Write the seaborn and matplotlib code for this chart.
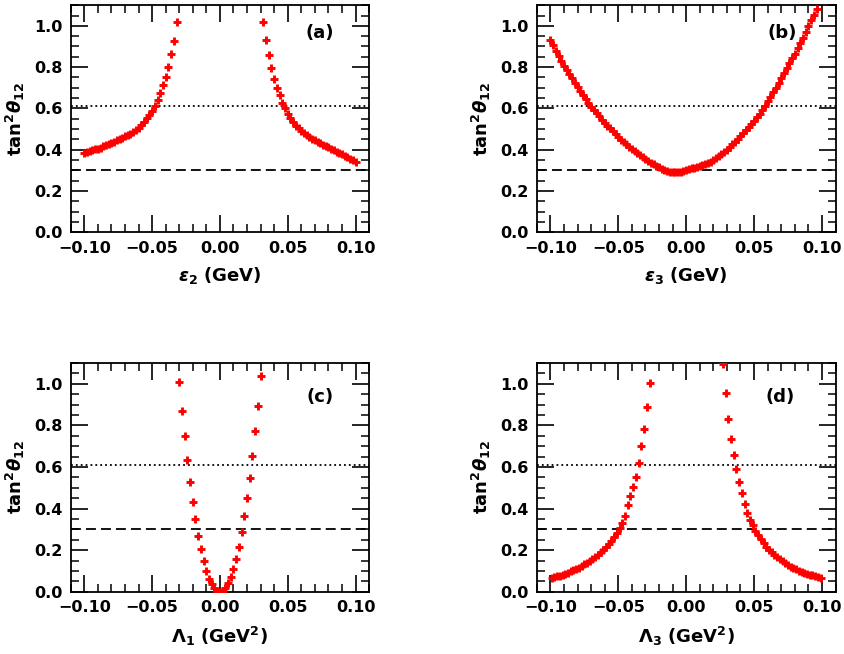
import numpy as np
import pandas as pd
import matplotlib
matplotlib.use("Agg")
import matplotlib.pyplot as plt
import seaborn as sns
from matplotlib.ticker import MultipleLocator, FuncFormatter

# ---------------- data ----------------
# (a) tan^2(theta12) vs epsilon_2 (GeV)
a_left_x = [-0.100, -0.098, -0.096, -0.094, -0.092, -0.090, -0.088, -0.086, -0.084, -0.082,
            -0.080, -0.078, -0.076, -0.074, -0.072, -0.070, -0.068, -0.066, -0.064, -0.062,
            -0.060, -0.058, -0.056, -0.054, -0.052, -0.050, -0.048, -0.046, -0.044, -0.042,
            -0.040, -0.038, -0.036, -0.034, -0.032]
a_left_y = [0.384, 0.388, 0.392, 0.396, 0.401, 0.405, 0.410, 0.416, 0.421, 0.427,
            0.433, 0.439, 0.445, 0.452, 0.458, 0.465, 0.471, 0.478, 0.486, 0.494,
            0.503, 0.518, 0.535, 0.551, 0.569, 0.589, 0.611, 0.641, 0.676, 0.712,
            0.754, 0.801, 0.863, 0.928, 1.017]
a_right_x = [0.032, 0.034, 0.036, 0.038, 0.040, 0.042, 0.044, 0.046, 0.048, 0.050,
             0.052, 0.054, 0.056, 0.058, 0.060, 0.062, 0.064, 0.066, 0.068, 0.070,
             0.072, 0.074, 0.076, 0.078, 0.080, 0.082, 0.084, 0.086, 0.088, 0.090,
             0.092, 0.094, 0.096, 0.098, 0.100]
a_right_y = [1.017, 0.930, 0.860, 0.795, 0.741, 0.699, 0.663, 0.628, 0.600, 0.574,
             0.552, 0.533, 0.517, 0.503, 0.490, 0.480, 0.470, 0.461, 0.452, 0.445,
             0.437, 0.430, 0.423, 0.417, 0.411, 0.404, 0.398, 0.391, 0.384, 0.377,
             0.369, 0.362, 0.355, 0.348, 0.341]

# (b) tan^2(theta12) vs epsilon_3 (GeV)
b_x = [-0.100, -0.098, -0.096, -0.094, -0.092, -0.090, -0.088, -0.086, -0.084, -0.082,
       -0.080, -0.078, -0.076, -0.074, -0.072, -0.070, -0.068, -0.066, -0.064, -0.062,
       -0.060, -0.058, -0.056, -0.054, -0.052, -0.050, -0.048, -0.046, -0.044, -0.042,
       -0.040, -0.038, -0.036, -0.034, -0.032, -0.030, -0.028, -0.026, -0.024, -0.022,
       -0.020, -0.018, -0.016, -0.014, -0.012, -0.010, -0.008, -0.006, -0.004, -0.002,
       0.000, 0.002, 0.004, 0.006, 0.008, 0.010, 0.012, 0.014, 0.016, 0.018,
       0.020, 0.022, 0.024, 0.026, 0.028, 0.030, 0.032, 0.034, 0.036, 0.038,
       0.040, 0.042, 0.044, 0.046, 0.048, 0.050, 0.052, 0.054, 0.056, 0.058,
       0.060, 0.062, 0.064, 0.066, 0.068, 0.070, 0.072, 0.074, 0.076, 0.078,
       0.080, 0.082, 0.084, 0.086, 0.088, 0.090, 0.092, 0.094, 0.096]
b_y = [0.930, 0.905, 0.880, 0.855, 0.830, 0.805, 0.785, 0.765, 0.745, 0.725,
       0.705, 0.685, 0.664, 0.645, 0.626, 0.608, 0.592, 0.576, 0.561, 0.546,
       0.531, 0.517, 0.503, 0.489, 0.476, 0.461, 0.449, 0.437, 0.425, 0.414,
       0.403, 0.393, 0.383, 0.373, 0.364, 0.355, 0.346, 0.337, 0.329, 0.321,
       0.314, 0.307, 0.301, 0.296, 0.292, 0.290, 0.290, 0.291, 0.294, 0.298,
       0.302, 0.306, 0.310, 0.313, 0.316, 0.320, 0.324, 0.329, 0.335, 0.342,
       0.350, 0.358, 0.367, 0.377, 0.388, 0.400, 0.412, 0.425, 0.438, 0.451,
       0.465, 0.479, 0.494, 0.509, 0.524, 0.540, 0.557, 0.575, 0.594, 0.613,
       0.634, 0.656, 0.678, 0.701, 0.725, 0.748, 0.771, 0.795, 0.818, 0.842,
       0.866, 0.891, 0.917, 0.943, 0.970, 0.998, 1.026, 1.054, 1.083]

# (c) tan^2(theta12) vs Lambda_1 (GeV^2)
c_x = [-0.030, -0.028, -0.026, -0.024, -0.022, -0.020, -0.018, -0.016, -0.014, -0.012,
       -0.010, -0.008, -0.006, -0.004, -0.002, 0.000, 0.002, 0.004, 0.006, 0.008,
       0.010, 0.012, 0.014, 0.016, 0.018, 0.020, 0.022, 0.024, 0.026, 0.028, 0.030]
c_y = [1.008, 0.871, 0.750, 0.633, 0.528, 0.432, 0.349, 0.269, 0.206, 0.148,
       0.101, 0.064, 0.037, 0.019, 0.006, 0.000, 0.006, 0.019, 0.041, 0.073,
       0.110, 0.158, 0.218, 0.286, 0.363, 0.449, 0.547, 0.653, 0.773, 0.895, 1.035]

# (d) tan^2(theta12) vs Lambda_3 (GeV^2)
d_left_x = [-0.099, -0.097, -0.095, -0.093, -0.091, -0.089, -0.087, -0.085, -0.083, -0.081,
            -0.079, -0.077, -0.075, -0.073, -0.071, -0.069, -0.067, -0.065, -0.063, -0.061,
            -0.059, -0.057, -0.055, -0.053, -0.051, -0.049, -0.047, -0.045, -0.043, -0.041,
            -0.039, -0.037, -0.035, -0.033, -0.031, -0.029, -0.027]
d_left_y = [0.066, 0.070, 0.074, 0.078, 0.083, 0.088, 0.093, 0.099, 0.105, 0.111,
            0.117, 0.124, 0.132, 0.140, 0.149, 0.158, 0.168, 0.179, 0.190, 0.202,
            0.215, 0.230, 0.246, 0.264, 0.284, 0.307, 0.333, 0.367, 0.418, 0.461,
            0.503, 0.553, 0.619, 0.702, 0.783, 0.888, 1.005]
d_right_x = [0.027, 0.029, 0.031, 0.033, 0.035, 0.037, 0.039, 0.041, 0.043, 0.045,
             0.047, 0.049, 0.051, 0.053, 0.055, 0.057, 0.059, 0.061, 0.063, 0.065,
             0.067, 0.069, 0.071, 0.073, 0.075, 0.077, 0.079, 0.081, 0.083, 0.085,
             0.087, 0.089, 0.091, 0.093, 0.095, 0.097, 0.099]
d_right_y = [1.095, 0.954, 0.830, 0.737, 0.657, 0.592, 0.530, 0.474, 0.422, 0.379,
             0.347, 0.319, 0.294, 0.272, 0.252, 0.234, 0.218, 0.203, 0.190, 0.178,
             0.167, 0.156, 0.146, 0.137, 0.129, 0.121, 0.114, 0.108, 0.102, 0.097,
             0.092, 0.087, 0.083, 0.079, 0.075, 0.072, 0.069]

dotted_level = 0.61
dashed_level = 0.30
panel_tags = ["(a)", "(b)", "(c)", "(d)"]
x_labels = [r"$\epsilon_2$ (GeV)", r"$\epsilon_3$ (GeV)",
            r"$\Lambda_1$ (GeV$^2$)", r"$\Lambda_3$ (GeV$^2$)"]
y_label = r"$\mathrm{tan}^2\theta_{12}$"

# ---------------- style ----------------
sns.set_theme(style="ticks")
plt.rcParams.update({
    "font.family": ["DejaVu Sans"],
    "font.weight": "bold",
    "axes.labelweight": "bold",
    "text.color": "black",
    "axes.labelcolor": "black",
    "xtick.color": "black",
    "ytick.color": "black",
    "mathtext.fontset": "custom",
    "mathtext.rm": "DejaVu Sans:bold",
    "mathtext.it": "DejaVu Sans:italic:bold",
    "mathtext.bf": "DejaVu Sans:bold",
    "axes.linewidth": 1.3,
    "axes.edgecolor": "black",
})

fig = plt.figure(figsize=(8.44, 6.54), dpi=100)
positions = [
    (0.0838, 0.645, 0.3535, 0.347),
    (0.636, 0.645, 0.354, 0.347),
    (0.0838, 0.095, 0.3535, 0.350),
    (0.636, 0.095, 0.354, 0.350),
]

frames = [
    pd.DataFrame({"x": a_left_x + a_right_x, "y": a_left_y + a_right_y}),
    pd.DataFrame({"x": b_x, "y": b_y}),
    pd.DataFrame({"x": c_x, "y": c_y}),
    pd.DataFrame({"x": d_left_x + d_right_x, "y": d_left_y + d_right_y}),
]

def xfmt(v, pos):
    s = f"{v:.2f}"
    if s == "-0.00":
        s = "0.00"
    return s.replace("-", "\u2212")

def yfmt(v, pos):
    return f"{v:.1f}"

for i, (pos, df) in enumerate(zip(positions, frames)):
    ax = fig.add_axes(pos)
    ax.axhline(dotted_level, color="black", lw=1.3, ls=(0, (1, 1.7)), zorder=1)
    ax.axhline(dashed_level, color="black", lw=1.3, ls=(0, (5.5, 2.8)), zorder=1)
    sns.scatterplot(data=df, x="x", y="y", ax=ax, marker="+", s=40,
                    color="#ff0000", linewidth=2.1, legend=False, zorder=3)
    ax.set_xlim(-0.11, 0.11)
    ax.set_ylim(0.0, 1.1)
    ax.xaxis.set_major_locator(MultipleLocator(0.05))
    ax.xaxis.set_minor_locator(MultipleLocator(0.01))
    ax.yaxis.set_major_locator(MultipleLocator(0.2))
    ax.yaxis.set_minor_locator(MultipleLocator(0.05))
    ax.xaxis.set_major_formatter(FuncFormatter(xfmt))
    ax.yaxis.set_major_formatter(FuncFormatter(yfmt))
    ax.tick_params(which="major", direction="in", length=12, width=1.2,
                   top=True, right=True, labelsize=11.5, pad=6, colors="black")
    ax.tick_params(which="minor", direction="in", length=5.5, width=1.1,
                   top=True, right=True)
    for lab in ax.get_xticklabels() + ax.get_yticklabels():
        lab.set_fontweight("bold")
    ax.set_xlabel(x_labels[i], fontsize=13, labelpad=7, fontweight="bold", color="black")
    ax.set_ylabel(y_label, fontsize=13, labelpad=5, fontweight="bold", color="black")
    for sp in ax.spines.values():
        sp.set_visible(True)
        sp.set_linewidth(1.3)
        sp.set_color("black")
    tx = [0.835, 0.82, 0.835, 0.815][i]
    ty = [0.877, 0.877, 0.85, 0.853][i]
    ax.text(tx, ty, panel_tags[i], transform=ax.transAxes, ha="center",
            va="center", fontsize=13, fontweight="bold", color="black")

fig.savefig("out.png", dpi=100)
